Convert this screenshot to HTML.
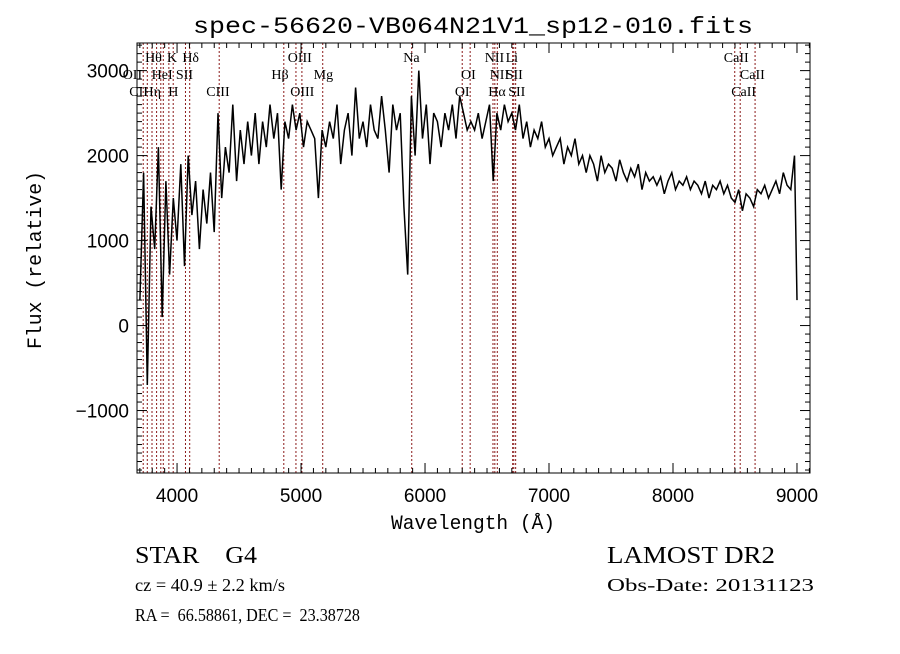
<!DOCTYPE html>
<html><head><meta charset="utf-8"><style>
body{margin:0;background:#fff;}
svg text{font-family:"Liberation Sans",sans-serif;fill:#000;white-space:pre;}
</style></head><body>
<svg id="chart" width="900" height="649" xmlns="http://www.w3.org/2000/svg">
<rect width="900" height="649" fill="#fff"/>
<text x="473" y="33" text-anchor="middle" font-size="23" style="font-family:'Liberation Mono',monospace" textLength="560" lengthAdjust="spacingAndGlyphs">spec-56620-VB064N21V1_sp12-010.fits</text>
<g id="lines"></g>
<g id="labels"></g>
<path id="spec" fill="none" stroke="#000" stroke-width="1.5"/>
<rect x="137" y="43" width="673" height="430" fill="none" stroke="#000" stroke-width="1"/>
<g id="ticks"></g>
<text x="473" y="529" text-anchor="middle" font-size="20" style="font-family:'Liberation Mono',monospace" textLength="164" lengthAdjust="spacingAndGlyphs">Wavelength (Å)</text>
<text transform="translate(41,260) rotate(-90)" text-anchor="middle" font-size="20" style="font-family:'Liberation Mono',monospace" textLength="178" lengthAdjust="spacingAndGlyphs">Flux (relative)</text>
<text x="135" y="563" font-size="24" style="font-family:'Liberation Serif',serif" textLength="122" lengthAdjust="spacingAndGlyphs">STAR    G4</text>
<text x="135" y="591" font-size="18" style="font-family:'Liberation Serif',serif" textLength="150" lengthAdjust="spacingAndGlyphs">cz = 40.9 ± 2.2 km/s</text>
<text x="135" y="621" font-size="18" style="font-family:'Liberation Serif',serif" textLength="225" lengthAdjust="spacingAndGlyphs">RA =  66.58861, DEC =  23.38728</text>
<text x="607" y="563" font-size="24" style="font-family:'Liberation Serif',serif" textLength="168" lengthAdjust="spacingAndGlyphs">LAMOST DR2</text>
<text x="607" y="591" font-size="18" style="font-family:'Liberation Serif',serif" textLength="207" lengthAdjust="spacingAndGlyphs">Obs-Date: 20131123</text>
</svg>
<script>
const wlStart = 3700, wlStep = 30;
const flux = [300,1800,-700,1400,900,2100,100,1700,600,1500,
1000,1900,700,2000,1300,1700,900,1600,1200,1800,
1100,2500,1500,2100,1800,2600,1700,2300,1900,2400,
2000,2500,1900,2400,2100,2600,2200,2500,1600,2400,
2200,2600,2300,2500,2100,2400,2300,2200,1500,2300,
2100,2400,2200,2600,1900,2300,2500,2000,2800,2200,
2400,2100,2600,2300,2200,2700,2300,1800,2600,2300,
2500,1400,600,2700,2000,3000,2200,2600,1900,2500,
2400,2100,2500,2300,2600,2200,2700,2500,2300,2400,
2300,2500,2200,2400,2600,1700,2500,2300,2600,2400,
2500,2300,2600,2200,2400,2100,2300,2200,2400,2100,
2200,2000,2100,2200,1900,2100,2000,2200,1900,2000,
1800,2000,1900,1700,2000,1800,1900,1850,1700,1950,
1800,1700,1850,1750,1900,1600,1800,1700,1750,1650,
1750,1550,1700,1800,1600,1700,1650,1750,1600,1700,
1650,1550,1700,1500,1650,1600,1700,1550,1650,1500,
1450,1600,1350,1550,1500,1400,1600,1550,1650,1500,
1600,1700,1550,1800,1650,1600,2000,300];
const lineWl = [3727,3760,3798,3835,3869,3889,3934,3969,4068,4102,4340,4861,4959,5007,5175,5893,6300,6364,6548,6563,6583,6707,6716,6731,8498,8542,8662];
const labelText = ["Hθ","K","Hδ","OIII","Na","NII","Li","CaII","OII","HeI","SII","Hβ","Mg","OI","NII","SII","CaII","CII","Hη","H","CIII","OIII","OI","Hα","SII","CaII"];
const labelWl = [3810,3960,4110,4990,5890,6560,6700,8510,3640,3880,4060,4830,5180,6350,6600,6720,8640,3690,3800,3970,4330,5010,6300,6580,6740,8570];
const labelRow = [0,0,0,0,0,0,0,0,1,1,1,1,1,1,1,1,1,2,2,2,2,2,2,2,2,2];
const xTicks = [4000,5000,6000,7000,8000,9000];
const yTicks = [-1000,0,1000,2000,3000];

const X0=137,X1=810,Y0=43,Y1=473, wMin=3677, wMax=9105, fMin=-1735, fMax=3325;
const xs = w => X0 + (w-wMin)/(wMax-wMin)*(X1-X0);
const ys = f => Y1 - (f-fMin)/(fMax-fMin)*(Y1-Y0);
const NS="http://www.w3.org/2000/svg";
function mk(tag, attrs, parent){const e=document.createElementNS(NS,tag);for(const k in attrs)e.setAttribute(k,attrs[k]);parent.appendChild(e);return e;}

let d="";
flux.forEach((f,i)=>{const w=Math.min(wlStart+i*wlStep,9000);d+=(i?"L":"M")+xs(w).toFixed(1)+","+ys(f).toFixed(1);});
document.getElementById("spec").setAttribute("d",d);

const gl=document.getElementById("lines");
lineWl.forEach(w=>{const l=mk("line",{x1:xs(w),x2:xs(w),y1:Y0,y2:Y1,stroke:"#8b1a1a","stroke-width":1,"stroke-dasharray":"2,2"},gl);

});

const glab=document.getElementById("labels");
labelText.forEach((t,i)=>{const e=mk("text",{x:xs(labelWl[i]),y:62+labelRow[i]*17,"text-anchor":"middle","font-size":"14",style:"font-family:'Liberation Serif',serif"},glab);e.textContent=t;

});

const gt=document.getElementById("ticks");
for(let w=3700;w<=9100;w+=100){const x=xs(w);const L=(w%1000===0)?10:5;
mk("line",{x1:x,x2:x,y1:Y1,y2:Y1-L,stroke:"#000"},gt);mk("line",{x1:x,x2:x,y1:Y0,y2:Y0+L,stroke:"#000"},gt);}
for(let f=-1700;f<=3300;f+=100){const y=ys(f);const L=(f%1000===0)?10:5;
mk("line",{x1:X0,x2:X0+L,y1:y,y2:y,stroke:"#000"},gt);mk("line",{x1:X1,x2:X1-L,y1:y,y2:y,stroke:"#000"},gt);}
xTicks.forEach(w=>{const e=mk("text",{x:xs(w),y:502,"text-anchor":"middle","font-size":"19"},gt);e.textContent=w;

});
yTicks.forEach(f=>{const e=mk("text",{x:129,y:ys(f)+7,"text-anchor":"end","font-size":"19"},gt);e.textContent=f<0?"−"+Math.abs(f):f;

});
</script>
</body></html>
